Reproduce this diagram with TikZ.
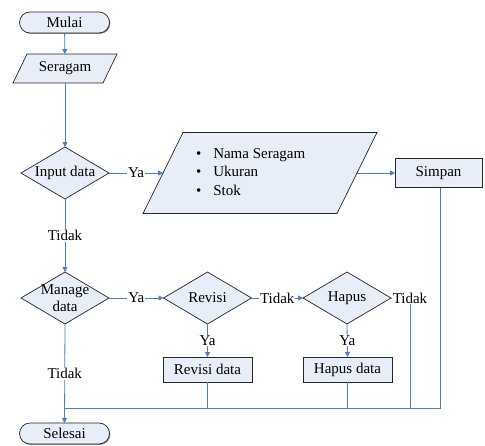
\documentclass[tikz,border=0pt]{standalone}
\usepackage{fontspec}
\setmainfont{Liberation Serif}
\usetikzlibrary{arrows.meta,shapes.geometric,shadows,backgrounds}
\definecolor{fc}{RGB}{232,238,248}
\definecolor{lc}{RGB}{74,126,198}
\begin{document}
\begin{tikzpicture}[x=1pt,y=-1pt,
 font=\fontsize{15}{18.5}\selectfont,
 every node/.style={inner sep=0pt, outer sep=0pt},
 shd/.style={drop shadow={shadow xshift=0.9pt, shadow yshift=-0.9pt, fill=black!45, opacity=1}},
 term/.style={draw=black!85, fill=fc, rounded corners=10.5pt, minimum width=90pt, minimum height=21pt, line width=0.7pt, shd},
 proc/.style={draw=black!85, fill=fc, minimum width=89pt, minimum height=25pt, line width=0.7pt, shd},
 dia/.style={draw=black!85, fill=fc, diamond, minimum width=88pt, minimum height=52pt, line width=0.7pt},
 para/.style={draw=black!85, fill=fc, line width=0.7pt},
 conn/.style={draw=lc, line width=0.8pt},
 arr/.style={conn, -{Triangle[length=5pt,width=5pt]}},
 lbl/.style={fill=white, inner sep=1pt}]
\useasboundingbox (0,0) rectangle (485,445);

% nodes
\node[term] (mul) at (64.5,22.5) {Mulai};
\node[minimum width=90pt, minimum height=29pt] (ser) at (65,68.5) {Seragam};
\node[dia] (inp) at (65,173) {};
\node (inpt) at (inp) {Input data};
\node[minimum width=194pt, minimum height=81pt] (dat) at (260,173) {};
\node[anchor=west] (datt) at (196,173) {\begin{tabular}{@{}l@{\hspace{12pt}}l@{}}\textbullet & Nama Seragam\\ \textbullet & Ukuran\\ \textbullet & Stok\end{tabular}};
\node[proc, minimum width=87pt, minimum height=29pt] (sim) at (438.5,173) {Simpan};
\node[dia] (man) at (65,298) {};
\node[align=center, font=\fontsize{15}{17}\selectfont] (mant) at (man) {Manage\\data};
\node[dia] (rev) at (207.5,298) {};
\node (revt) at (rev) {Revisi};
\node[dia] (hap) at (347,298) {};
\node (hapt) at (hap) {Hapus};
\node[proc] (rvd) at (207.5,369.5) {Revisi data};
\node[proc] (hpd) at (347.5,369.5) {Hapus data};
\node[term] (sel) at (64.5,433.5) {Selesai};
\coordinate (jn) at (65,408);
\coordinate (hbend) at (410,298);

% parallelogram outlines
\begin{pgfonlayer}{background}
\draw[para] ([xshift=7pt]ser.north west) -- ([xshift=7pt]ser.north east) -- ([xshift=-7pt]ser.south east) -- ([xshift=-7pt]ser.south west) -- cycle;
\draw[para] ([xshift=20pt]dat.north west) -- ([xshift=20pt]dat.north east) -- ([xshift=-20pt]dat.south east) -- ([xshift=-20pt]dat.south west) -- cycle;
\end{pgfonlayer}

% connectors
\draw[arr] (mul) -- (ser);
\draw[arr] (ser) -- (inp.north);
\draw[arr] (inp.east) -- node[lbl]{Ya} (dat.west);
\draw[arr] (dat.east) -- (sim.west);
\draw[arr] (inp.south) -- node[lbl]{Tidak} (man.north);
\draw[arr] (man.east) -- node[lbl]{Ya} (rev.west);
\draw[arr] (rev.east) -- node[lbl]{Tidak} (hap.west);
\draw[arr] (rev.south) -- node[lbl]{Ya} (rvd.north);
\draw[arr] (hap.south) -- node[lbl]{Ya} (hpd.north);
\draw[arr] (man.south) -- node[lbl]{Tidak} (sel.north);
\draw[conn] (rvd.south) |- (jn);
\draw[conn] (hpd.south) |- (jn);
\draw[conn] (hap.east) -- (hbend) node[lbl]{Tidak} |- (jn);
\draw[conn] ([xshift=2pt]sim.south) |- (jn);
\end{tikzpicture}
\end{document}
